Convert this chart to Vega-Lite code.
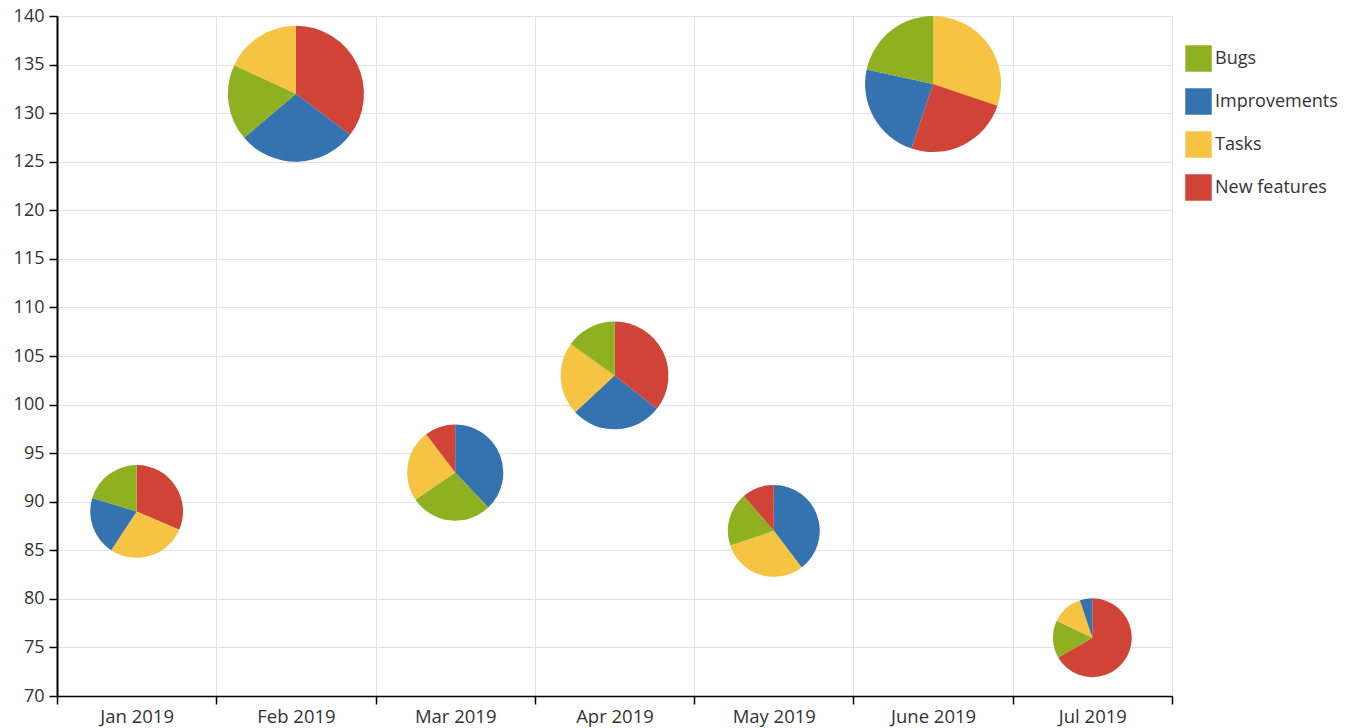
{
  "$schema": "https://vega.github.io/schema/vega-lite/v6.json",
  "width": 1115,
  "height": 680,
  "autosize": {"type": "none"},
  "padding": {"left": 57, "top": 16, "right": 184, "bottom": 32},
  "background": "white",
  "config": {"view": {"stroke": null}, "font": "Open Sans"},
  "data": {
    "values": [
      {"month": "Jan 2019", "score": 89, "type": "New features", "count": 17},
      {"month": "Jan 2019", "score": 89, "type": "Tasks", "count": 15},
      {"month": "Jan 2019", "score": 89, "type": "Improvements", "count": 11},
      {"month": "Jan 2019", "score": 89, "type": "Bugs", "count": 11},
      {"month": "Feb 2019", "score": 132, "type": "New features", "count": 41},
      {"month": "Feb 2019", "score": 132, "type": "Improvements", "count": 33},
      {"month": "Feb 2019", "score": 132, "type": "Bugs", "count": 21},
      {"month": "Feb 2019", "score": 132, "type": "Tasks", "count": 21},
      {"month": "Mar 2019", "score": 93, "type": "Improvements", "count": 22},
      {"month": "Mar 2019", "score": 93, "type": "Bugs", "count": 16},
      {"month": "Mar 2019", "score": 93, "type": "Tasks", "count": 14},
      {"month": "Mar 2019", "score": 93, "type": "New features", "count": 6},
      {"month": "Apr 2019", "score": 103, "type": "New features", "count": 26},
      {"month": "Apr 2019", "score": 103, "type": "Improvements", "count": 20},
      {"month": "Apr 2019", "score": 103, "type": "Tasks", "count": 16},
      {"month": "Apr 2019", "score": 103, "type": "Bugs", "count": 11},
      {"month": "May 2019", "score": 87, "type": "Improvements", "count": 21},
      {"month": "May 2019", "score": 87, "type": "Tasks", "count": 16},
      {"month": "May 2019", "score": 87, "type": "Bugs", "count": 10},
      {"month": "May 2019", "score": 87, "type": "New features", "count": 6},
      {"month": "June 2019", "score": 133, "type": "Tasks", "count": 35},
      {"month": "June 2019", "score": 133, "type": "New features", "count": 29},
      {"month": "June 2019", "score": 133, "type": "Improvements", "count": 27},
      {"month": "June 2019", "score": 133, "type": "Bugs", "count": 25},
      {"month": "Jul 2019", "score": 76, "type": "New features", "count": 26},
      {"month": "Jul 2019", "score": 76, "type": "Bugs", "count": 6},
      {"month": "Jul 2019", "score": 76, "type": "Tasks", "count": 5},
      {"month": "Jul 2019", "score": 76, "type": "Improvements", "count": 2}
    ]
  },
  "transform": [
    {"window": [{"op": "row_number", "as": "idx"}]},
    {"joinaggregate": [{"op": "sum", "field": "count", "as": "total"}], "groupby": ["month"]},
    {"stack": "count", "groupby": ["month"], "sort": [{"field": "idx", "order": "ascending"}], "offset": "normalize", "as": ["t0", "t1"]}
  ],
  "mark": {"type": "arc"},
  "encoding": {
    "x": {
      "field": "month",
      "type": "nominal",
      "sort": ["Jan 2019", "Feb 2019", "Mar 2019", "Apr 2019", "May 2019", "June 2019", "Jul 2019"],
      "scale": {"type": "band", "paddingInner": 0, "paddingOuter": 0},
      "axis": {
        "title": null,
        "tickBand": "extent",
        "grid": true,
        "gridColor": "#e2e2e2",
        "gridWidth": 1,
        "domainColor": "#000000",
        "domainWidth": 1.5,
        "tickColor": "#000000",
        "tickWidth": 1.5,
        "tickSize": 8,
        "labelAngle": 0,
        "labelFontSize": 18.5,
        "labelColor": "#333333",
        "labelPadding": 3
      }
    },
    "y": {
      "field": "score",
      "type": "quantitative",
      "stack": null,
      "scale": {"domain": [70, 140], "zero": false, "nice": false},
      "axis": {
        "title": null,
        "values": [70, 75, 80, 85, 90, 95, 100, 105, 110, 115, 120, 125, 130, 135, 140],
        "grid": true,
        "gridColor": "#e2e2e2",
        "gridWidth": 1,
        "domainColor": "#000000",
        "domainWidth": 2,
        "tickColor": "#000000",
        "tickWidth": 1.5,
        "tickSize": 8,
        "labelFontSize": 18,
        "labelColor": "#333333",
        "labelPadding": 5
      }
    },
    "theta": {"field": "t0", "type": "quantitative", "stack": null, "scale": {"domain": [0, 1], "range": [0, 6.283185307179586]}},
    "theta2": {"field": "t1"},
    "radius": {"field": "total", "type": "quantitative", "stack": null, "scale": {"type": "sqrt", "zero": true, "domain": [0, 116], "range": [0, 68]}, "legend": null},
    "color": {
      "field": "type",
      "type": "nominal",
      "scale": {"domain": ["Bugs", "Improvements", "Tasks", "New features"], "range": ["#8eb021", "#3572b0", "#f6c342", "#d04437"]},
      "legend": {
        "title": null,
        "orient": "none",
        "legendX": 1128,
        "legendY": 29,
        "symbolType": "square",
        "symbolSize": 700,
        "symbolStrokeWidth": 0,
        "symbolOpacity": 1,
        "labelFontSize": 18,
        "labelColor": "#333333",
        "labelOffset": 3,
        "rowPadding": 16
      }
    }
  }
}
